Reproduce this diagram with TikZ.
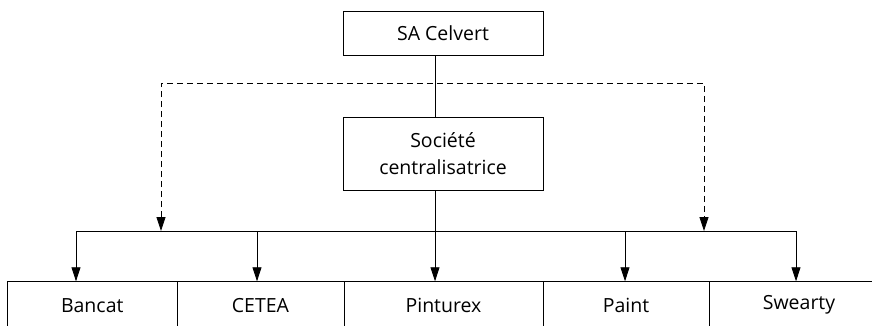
\documentclass[tikz,border=0pt]{standalone}
\usepackage{fontspec}
\setmainfont{Open Sans}
\usetikzlibrary{arrows.meta}
\begin{document}
\begin{tikzpicture}[x=1pt,y=1pt,
  line width=0.8pt,
  box/.style={draw,rectangle,inner sep=0pt,align=center,font=\fontsize{19.5}{27}\selectfont},
  cell/.style={draw,rectangle,inner sep=0pt,minimum height=47pt,font=\fontsize{19.5}{27}\selectfont},
  arr/.style={-{Triangle[length=14pt,width=9pt]}},
  darr/.style={dashed,dash pattern=on 6pt off 4pt,{Triangle[length=14pt,width=9pt]}-{Triangle[length=14pt,width=9pt]}}]
\useasboundingbox (0,0) rectangle (872,-325);
% boxes
\node[box,minimum width=200pt,minimum height=44pt] (top) at (443,-33) {SA Celvert};
\node[box,minimum width=200pt,minimum height=73pt] (mid) at (443,-153.5) {Société\\centralisatrice};
% bottom row
\node[cell,minimum width=169.5pt] (bancat) at (92.25,-305.2) {Bancat};
\node[cell,minimum width=167pt] (cetea) at (260.5,-305.2) {CETEA};
\node[cell,minimum width=199pt] (pinturex) at (443.5,-305.2) {Pinturex};
\node[cell,minimum width=166pt] (paint) at (626,-305.2) {Paint};
\node[cell,minimum width=180pt] (swearty) at (799,-305.2) {Swearty};
% bus coordinates
\coordinate (t) at (435,-55);
\coordinate (m1) at (435,-117);
\coordinate (m2) at (435,-190);
\coordinate (b1) at (76,-231);
\coordinate (b2) at (257,-231);
\coordinate (b3) at (435,-231);
\coordinate (b4) at (625,-231);
\coordinate (b5) at (796,-231);
\coordinate (dl) at (161,-231);
\coordinate (dr) at (704,-231);
\coordinate (dtop) at (435,-83);
% connectors
\draw (t) -- (m1);
\draw (b1) -- (b5);
\draw[arr] (m2) -- (m2 |- pinturex.north);
\draw[arr] (b1) -- (b1 |- bancat.north);
\draw[arr] (b2) -- (b2 |- cetea.north);
\draw[arr] (b4) -- (b4 |- paint.north);
\draw[arr] (b5) -- (b5 |- swearty.north);
\draw[darr] (dl) |- (dtop) -| (dr);
\end{tikzpicture}
\end{document}
